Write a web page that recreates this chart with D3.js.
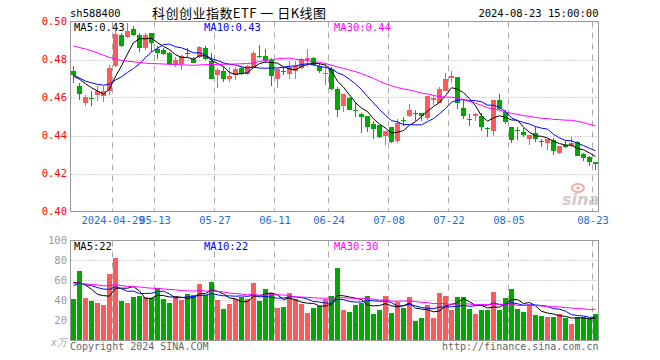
<!DOCTYPE html>
<html><head><meta charset="utf-8">
<script src="https://cdn.jsdelivr.net/npm/d3@7"></script>
<style>body{margin:0;background:#fff}svg{display:block}</style>
</head><body>
<svg id="c" width="660" height="360"></svg>
<script>
const dates = ["2024-04-18","2024-04-19","2024-04-22","2024-04-23","2024-04-24","2024-04-25","2024-04-26","2024-04-29","2024-04-30","2024-05-06",
"2024-05-07","2024-05-08","2024-05-09","2024-05-10","2024-05-13","2024-05-14","2024-05-15","2024-05-16","2024-05-17","2024-05-20",
"2024-05-21","2024-05-22","2024-05-23","2024-05-24","2024-05-27","2024-05-28","2024-05-29","2024-05-30","2024-05-31","2024-06-03",
"2024-06-04","2024-06-05","2024-06-06","2024-06-07","2024-06-11","2024-06-12","2024-06-13","2024-06-14","2024-06-17","2024-06-18",
"2024-06-19","2024-06-20","2024-06-21","2024-06-24","2024-06-25","2024-06-26","2024-06-27","2024-06-28","2024-07-01","2024-07-02",
"2024-07-03","2024-07-04","2024-07-05","2024-07-08","2024-07-09","2024-07-10","2024-07-11","2024-07-12","2024-07-15","2024-07-16",
"2024-07-17","2024-07-18","2024-07-19","2024-07-22","2024-07-23","2024-07-24","2024-07-25","2024-07-26","2024-07-29","2024-07-30",
"2024-07-31","2024-08-01","2024-08-02","2024-08-05","2024-08-06","2024-08-07","2024-08-08","2024-08-09","2024-08-12","2024-08-13",
"2024-08-14","2024-08-15","2024-08-16","2024-08-19","2024-08-20","2024-08-21","2024-08-22","2024-08-23"];

const opens = [.4742,.4658,.4571,.4600,.4614,.4609,.4632,.4767,.4930,.4921,
.4960,.4930,.4860,.4939,.4854,.4851,.4834,.4777,.4777,.4836,
.4802,.4812,.4860,.4791,.4720,.4742,.4698,.4719,.4755,.4722,
.4757,.4820,.4818,.4799,.4698,.4742,.4722,.4738,.4755,.4797,
.4808,.4766,.4723,.4750,.4646,.4553,.4596,.4535,.4514,.4504,
.4458,.4456,.4395,.4445,.4370,.4480,.4504,.4520,.4518,.4490,
.4588,.4572,.4635,.4701,.4707,.4544,.4487,.4501,.4504,.4440,
.4426,.4588,.4526,.4446,.4430,.4416,.4382,.4414,.4370,.4360,
.4377,.4306,.4350,.4347,.4367,.4305,.4286,.4259];
const highs = [.4765,.4677,.4614,.4635,.4658,.4658,.4772,.4956,.4942,.4992,
.4974,.4939,.4942,.4942,.4869,.4860,.4842,.4812,.4822,.4860,
.4812,.4872,.4869,.4834,.4755,.4763,.4763,.4763,.4763,.4770,
.4847,.4875,.4853,.4809,.4756,.4760,.4790,.4790,.4810,.4855,
.4812,.4779,.4774,.4758,.4655,.4619,.4605,.4575,.4520,.4504,
.4474,.4456,.4426,.4445,.4488,.4500,.4567,.4535,.4518,.4609,
.4614,.4654,.4730,.4740,.4707,.4588,.4512,.4521,.4521,.4444,
.4588,.4621,.4535,.4446,.4447,.4440,.4404,.4447,.4380,.4382,
.4385,.4346,.4372,.4391,.4370,.4310,.4290,.4259];
const lows = [.4677,.4588,.4553,.4555,.4579,.4574,.4614,.4763,.4864,.4913,
.4925,.4842,.4851,.4842,.4802,.4825,.4772,.4760,.4747,.4812,
.4781,.4807,.4798,.4697,.4650,.4684,.4684,.4693,.4720,.4718,
.4753,.4809,.4782,.4660,.4652,.4720,.4695,.4695,.4750,.4760,
.4765,.4730,.4668,.4640,.4495,.4525,.4532,.4495,.4412,.4421,
.4381,.4385,.4351,.4363,.4358,.4451,.4500,.4474,.4474,.4482,
.4561,.4570,.4632,.4676,.4539,.4486,.4452,.4477,.4426,.4391,
.4400,.4535,.4463,.4363,.4375,.4390,.4352,.4365,.4340,.4325,
.4298,.4303,.4336,.4340,.4290,.4265,.4242,.4221];
const closes = [.4721,.4619,.4602,.4595,.4635,.4635,.4755,.4935,.4872,.4951,
.4930,.4860,.4930,.4889,.4835,.4830,.4777,.4795,.4819,.4832,
.4784,.4865,.4801,.4700,.4747,.4698,.4711,.4751,.4725,.4766,
.4835,.4816,.4791,.4711,.4752,.4737,.4762,.4766,.4801,.4806,
.4773,.4742,.4731,.4645,.4535,.4619,.4536,.4530,.4500,.4445,
.4432,.4393,.4426,.4368,.4467,.4477,.4535,.4516,.4504,.4609,
.4596,.4644,.4697,.4711,.4572,.4504,.4484,.4513,.4446,.4432,
.4588,.4540,.4472,.4377,.4425,.4405,.4404,.4379,.4366,.4381,
.4316,.4346,.4340,.4362,.4293,.4284,.4259,.4252];
// volumes (万手)
const volumes = [41.5,69.5,42.5,39.5,37.5,35.5,66.5,82.5,39.5,37.5,
43.5,44.5,43.5,42.5,52.5,41.5,37.5,44.5,40.5,46.5,
45.5,56.5,45.5,58.5,40.5,31.5,36.5,41.5,43.5,41.5,
57.5,39.5,51.5,47.5,32.5,33.5,47.5,41.5,36.5,27.5,
32.5,34.5,41.5,44.5,72.5,30.5,28.5,35.5,38,44.5,
26.5,30.5,44.5,27.5,39,32.5,43.5,19.5,22.5,35.5,
22.5,47.5,44.5,30.5,43.5,43.5,31.5,26.5,30.5,30.5,
48.5,30.5,42.5,51.5,32,28.5,35.5,25.5,24.5,23.5,
23.5,26.5,22.5,16.5,23.5,23.5,22.5,26.5];
// sessions before the visible window (only used for the moving averages)
const prevCloses = [.4859,.4812,.4895,.4965,.4995,.5115,.5175,.5112,.5071,.5020,
.4980,.5020,.4949,.4865,.4872,.4819,.4837,.4861,.4874,.4826,
.4800,.4760,.4680,.4720,.4680,.4700,.4720,.4700,.4720];
const prevVolumes = [60,72,55,50,64,58,52,70,61,56,48,66,59,54,62,51,57,63,55,52,
48,55,50,57,50,70,55,60,63.5];

const priceTicks = [0.40,0.42,0.44,0.46,0.48,0.50];
const volumeTicks = [20,40,60,80,100];
const xTickDates = ["2024-04-29","2024-05-13","2024-05-27","2024-06-11","2024-06-24","2024-07-08","2024-07-22","2024-08-05","2024-08-23"];
const xTickLabels = ["2024-04-29","05-13","05-27","06-11","06-24","07-08","07-22","08-05","08-23"];
const priceLegend = ["MA5:0.43","MA10:0.43","MA30:0.44"];
const volumeLegend = ["MA5:22","MA10:22","MA30:30"];
const maPeriods = [5,10,30];
const maColors = ["#000000","#0000ff","#ff00ff"];

const RED = "#ff5959", GREEN = "#00a800";
const MONO = "'DejaVu Sans Mono', monospace";
const svg = d3.select("#c");
const N = dates.length;

const x = d3.scaleBand().domain(dates).range([70, 70 + 6 * (N + 1/6)]).paddingInner(1/6).paddingOuter(1/6);
const bw = x.bandwidth();
const cx = d => x(d) + bw / 2;
const yP = d3.scaleLinear().domain([0.40, 0.50]).range([211.5, 21.5]);
const yV = d3.scaleLinear().domain([0, 100]).range([340.5, 240.5]);
const L = 70.5, R = 598.5;

function ma(arr, prev, n) {
  const all = prev.concat(arr), P = prev.length;
  return arr.map((_, i) => d3.mean(all.slice(P + i - n + 1, P + i + 1)));
}

// ---------- header ----------
svg.append("text").attr("x", 70).attr("y", 17).attr("font-family", MONO).attr("font-size", 10.5).attr("fill", "#000").text("sh588400");
svg.append("text").attr("x", 152).attr("y", 17.5).attr("font-family", "'Noto Sans CJK SC', sans-serif")
  .attr("font-size", 13).attr("fill", "#000").attr("textLength", 174).attr("lengthAdjust", "spacing")
  .text("科创创业指数ETF 一 日K线图");
svg.append("text").attr("x", R).attr("y", 17).attr("text-anchor", "end").attr("font-family", MONO).attr("font-size", 10.5).attr("fill", "#000").text("2024-08-23 15:00:00");

// ---------- grids ----------
const grid = svg.append("g");
priceTicks.slice(1, -1).forEach(t => grid.append("line").attr("x1", L).attr("x2", R).attr("y1", Math.round(yP(t)) + 0.5).attr("y2", Math.round(yP(t)) + 0.5)
  .attr("stroke", "#aaa").attr("stroke-dasharray", "1,2"));
volumeTicks.slice(0, -1).forEach(t => grid.append("line").attr("x1", L).attr("x2", R).attr("y1", yV(t)).attr("y2", yV(t))
  .attr("stroke", "#aaa").attr("stroke-dasharray", "1,2"));
xTickDates.forEach(d => {
  const xx = x(d) - 0.5;
  grid.append("line").attr("x1", xx).attr("x2", xx).attr("y1", 21.5).attr("y2", 211.5).attr("stroke", "#aaa").attr("stroke-dasharray", "6,5");
  grid.append("line").attr("x1", xx).attr("x2", xx).attr("y1", 240.5).attr("y2", 340.5).attr("stroke", "#aaa").attr("stroke-dasharray", "6,5");
});

// ---------- axis labels ----------
priceTicks.forEach(t => svg.append("text").attr("x", 67).attr("y", yP(t) + 3.5).attr("text-anchor", "end")
  .attr("font-family", MONO).attr("font-size", 10.5).attr("fill", "#ff0000").text(t.toFixed(2)));
volumeTicks.forEach(t => svg.append("text").attr("x", 67).attr("y", yV(t) + 3.5).attr("text-anchor", "end")
  .attr("font-family", MONO).attr("font-size", 10.5).attr("fill", "#999").text(t));
svg.append("text").attr("x", 67).attr("y", 346).attr("text-anchor", "end").attr("font-family", MONO).attr("font-size", 10)
  .attr("font-style", "italic").attr("fill", "#aaa").text("x万");
xTickDates.forEach((d, i) => svg.append("text").attr("x", x(d)).attr("y", 224).attr("text-anchor", "middle")
  .attr("font-family", MONO).attr("font-size", 10.5).attr("fill", "#1a6fd6").text(xTickLabels[i]));

// ---------- watermark ----------
const wm = svg.append("g").attr("opacity", 0.55);
wm.append("ellipse").attr("cx", 578).attr("cy", 188).attr("rx", 6).attr("ry", 4).attr("fill", "none").attr("stroke", "#e07070").attr("stroke-width", 2);
wm.append("circle").attr("cx", 578).attr("cy", 188).attr("r", 1.8).attr("fill", "#e07070");
wm.append("text").attr("x", 562).attr("y", 205).attr("font-family", "'DejaVu Sans', sans-serif").attr("font-weight", "bold")
  .attr("font-style", "italic").attr("font-size", 16).attr("fill", "#b0a0a0").text("sina");

// ---------- candles ----------
const candles = svg.append("g").attr("shape-rendering", "crispEdges");
dates.forEach((d, i) => {
  const up = closes[i] >= opens[i];
  const col = up ? RED : GREEN;
  candles.append("line").attr("x1", cx(d)).attr("x2", cx(d)).attr("y1", yP(highs[i])).attr("y2", yP(lows[i])).attr("stroke", col);
  const top = yP(Math.max(opens[i], closes[i])), bot = yP(Math.min(opens[i], closes[i]));
  candles.append("rect").attr("x", x(d)).attr("width", bw).attr("y", top).attr("height", Math.max(1, bot - top)).attr("fill", col);
});

// ---------- volume bars ----------
const vb = svg.append("g").attr("shape-rendering", "crispEdges");
dates.forEach((d, i) => {
  const up = closes[i] >= opens[i];
  vb.append("rect").attr("x", x(d)).attr("width", bw).attr("y", yV(volumes[i])).attr("height", yV(0) - yV(volumes[i]))
    .attr("fill", up ? RED : GREEN);
});

// ---------- moving averages ----------
maPeriods.forEach((n, k) => {
  const mp = ma(closes, prevCloses, n);
  const mv = ma(volumes, prevVolumes, n);
  svg.append("path").datum(mp).attr("fill", "none").attr("stroke", maColors[k]).attr("stroke-width", 1)
    .attr("d", d3.line().x((v, i) => cx(dates[i])).y(v => yP(v)));
  svg.append("path").datum(mv).attr("fill", "none").attr("stroke", maColors[k]).attr("stroke-width", 1)
    .attr("d", d3.line().x((v, i) => cx(dates[i])).y(v => yV(v)));
});

// ---------- frames ----------
svg.append("rect").attr("x", L).attr("y", 21.5).attr("width", R - L).attr("height", 190).attr("fill", "none").attr("stroke", "#999");
svg.append("rect").attr("x", L).attr("y", 240.5).attr("width", R - L).attr("height", 100).attr("fill", "none").attr("stroke", "#999");

// ---------- legends ----------
const legX = [74, 204, 334];
priceLegend.forEach((t, k) => svg.append("text").attr("x", legX[k]).attr("y", 31).attr("font-family", MONO).attr("font-size", 10.5)
  .attr("fill", maColors[k]).text(t));
volumeLegend.forEach((t, k) => svg.append("text").attr("x", legX[k]).attr("y", 250).attr("font-family", MONO).attr("font-size", 10.5)
  .attr("fill", maColors[k]).text(t));

// ---------- footer ----------
svg.append("text").attr("x", 70).attr("y", 350).attr("font-family", MONO).attr("font-size", 10).attr("fill", "#666").text("Copyright 2024 SINA.COM");
svg.append("text").attr("x", R).attr("y", 350).attr("text-anchor", "end").attr("font-family", MONO).attr("font-size", 10).attr("fill", "#666").text("http://finance.sina.com.cn");
</script>
</body></html>
